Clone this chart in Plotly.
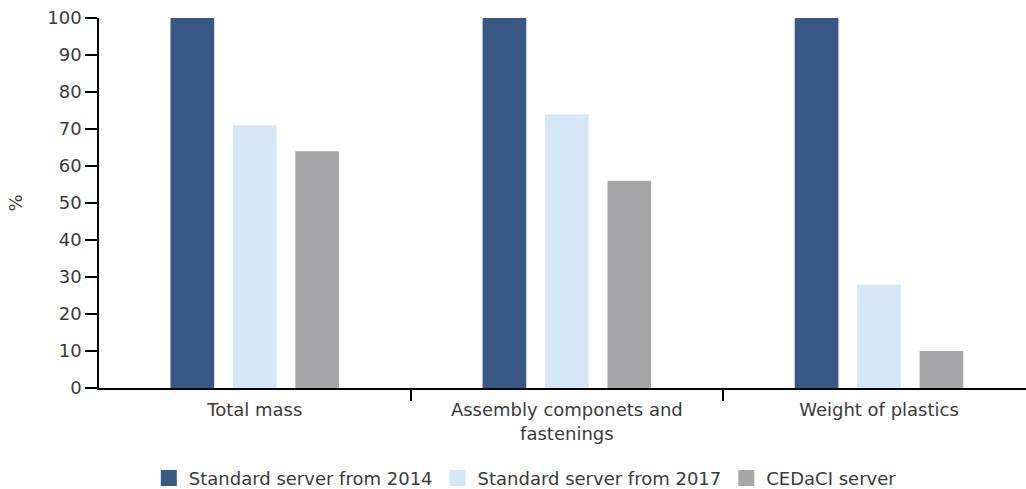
import plotly.graph_objects as go

categories = ["Total mass", "Assembly componets and<br>fastenings", "Weight of plastics"]
series_names = ["Standard server from 2014", "Standard server from 2017", "CEDaCI server"]
server_2014 = [100, 100, 100]
server_2017 = [71, 74, 28]
cedaci = [64, 56, 10]
y_ticks = list(range(0, 101, 10))

colors = ["#385886", "#d4e7f8", "#a7a7a9"]
font_family = "'DejaVu Sans', sans-serif"
text_color = "#3a3a3a"
fs = 18

fig = go.Figure()
for name, vals, col in zip(series_names, [server_2014, server_2017, cedaci], colors):
    fig.add_trace(go.Bar(
        x=categories, y=vals, name=name, marker=dict(color=col, line=dict(width=0)),
        showlegend=False,
    ))
    # square legend swatch
    fig.add_trace(go.Scatter(
        x=[None], y=[None], mode="markers", name=name,
        marker=dict(symbol="square", size=16, color=col),
    ))

fig.update_layout(
    width=1026, height=489,
    margin=dict(l=99, r=0, t=18, b=101),
    paper_bgcolor="white", plot_bgcolor="white",
    barmode="group", bargap=0.4, bargroupgap=0.3,
    font=dict(family=font_family, size=fs, color=text_color),
    legend=dict(
        orientation="h", xref="container", yref="container",
        x=0.512, xanchor="center", y=0.022, yanchor="middle",
        font=dict(size=fs, color=text_color), itemwidth=30,
        traceorder="normal",
    ),
    xaxis=dict(
        type="category", categoryorder="array", categoryarray=categories,
        range=[-0.499, 2.471], showgrid=False, showline=True, linecolor="black",
        linewidth=1.5, ticks="outside", tickson="boundaries", ticklen=11,
        tickcolor="black", tickwidth=1.5, tickfont=dict(size=fs, color=text_color),
        ticklabelstandoff=5,
    ),
    yaxis=dict(
        range=[0, 100], tickvals=y_ticks, showgrid=False, zeroline=False,
        showline=True, linecolor="black", linewidth=1.5, ticks="outside",
        ticklen=12, tickcolor="black", tickwidth=1.5,
        tickfont=dict(size=fs, color=text_color),
        title=dict(text="%", font=dict(size=fs, color=text_color), standoff=20),
    ),
)

fig.write_html("out.html")
